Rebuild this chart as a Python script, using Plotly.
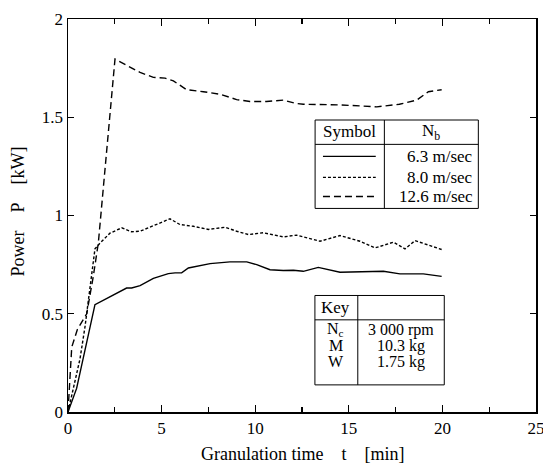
import plotly.graph_objects as go

# Data
t_63 = [0, 0.46, 1.44, 2.24, 3.13, 3.4, 3.85, 4.56, 5.36, 5.72, 6.07, 6.43, 7.59, 8.65, 9.55,
        10.08, 10.79, 11.5, 12.04, 12.57, 13.37, 14.53, 15.6, 16.85, 17.73, 18.98, 19.96]
p_63 = [0, 0.12, 0.546, 0.588, 0.631, 0.631, 0.643, 0.68, 0.704, 0.708, 0.708, 0.733, 0.755, 0.764, 0.764,
        0.75, 0.724, 0.72, 0.721, 0.716, 0.736, 0.711, 0.712, 0.716, 0.703, 0.703, 0.69]

t_80 = [0, 0.3, 0.64, 0.91, 1.2, 1.44, 1.71, 2.24, 2.87, 3.4, 3.85, 4.74, 5.45, 5.98, 6.7, 7.5,
        8.39, 9.01, 9.63, 10.43, 11.5, 12.2, 13.46, 14.53, 15.6, 16.4, 17.38, 18.0, 18.54, 19.96]
p_80 = [0, 0.12, 0.27, 0.435, 0.65, 0.83, 0.86, 0.91, 0.937, 0.917, 0.92, 0.954, 0.983, 0.954, 0.945, 0.929,
        0.94, 0.92, 0.903, 0.912, 0.891, 0.9, 0.869, 0.898, 0.869, 0.835, 0.864, 0.83, 0.872, 0.827]

t_126 = [0, 0.2, 0.5, 1.0, 1.35, 1.62, 2.51, 3.04, 3.85, 4.56, 5.18, 5.63, 6.34, 7.23, 8.12, 9.01,
         9.72, 10.6, 11.5, 12.2, 12.57, 14.53, 16.49, 17.7, 18.63, 19.25, 19.96]
p_126 = [0, 0.33, 0.42, 0.5, 0.69, 0.86, 1.796, 1.77, 1.728, 1.703, 1.699, 1.685, 1.64, 1.63, 1.617, 1.59,
         1.58, 1.58, 1.587, 1.57, 1.566, 1.563, 1.553, 1.566, 1.587, 1.63, 1.64]

series_names = ["6.3 m/sec", "8.0 m/sec", "12.6 m/sec"]
key_labels = ["N<sub>c</sub>", "M", "W"]
key_values = ["3 000 rpm", "10.3 kg", "1.75 kg"]

x_ticks = [0, 5, 10, 15, 20, 25]
y_ticks = [0, 0.5, 1, 1.5, 2]
y_tick_text = ["0", "0.5", "1", "1.5", "2"]

FONT = "Liberation Serif, Times New Roman, DejaVu Serif, serif"
dashes = ["solid", "3px,2px", "7px,4px"]

fig = go.Figure()
for tx, py, nm, ds in zip([t_63, t_80, t_126], [p_63, p_80, p_126], series_names, dashes):
    fig.add_trace(go.Scatter(x=tx, y=py, mode="lines", name=nm, hoverinfo="skip",
                             line=dict(color="black", width=1.4, dash=ds)))

# Symbol table
shapes = []
lw = 1
shapes.append(dict(type="rect", x0=13.2, x1=21.92, y0=1.036, y1=1.486, line=dict(color="black", width=lw)))
shapes.append(dict(type="line", x0=16.9, x1=16.9, y0=1.036, y1=1.486, line=dict(color="black", width=lw)))
shapes.append(dict(type="line", x0=13.2, x1=21.92, y0=1.362, y1=1.362, line=dict(color="black", width=lw)))
sample_y = [1.301, 1.194, 1.097]
for yy, ds in zip(sample_y, dashes):
    shapes.append(dict(type="line", x0=13.62, x1=16.44, y0=yy, y1=yy,
                       line=dict(color="black", width=1.4, dash=ds)))
# Key table
shapes.append(dict(type="rect", x0=13.19, x1=20.1, y0=0.138, y1=0.593, line=dict(color="black", width=lw)))
shapes.append(dict(type="line", x0=15.48, x1=15.48, y0=0.138, y1=0.593, line=dict(color="black", width=lw)))
shapes.append(dict(type="line", x0=13.19, x1=20.1, y0=0.469, y1=0.469, line=dict(color="black", width=lw)))

ann = []
fnt = dict(family=FONT, size=17, color="black")
fnt_k = dict(family=FONT, size=16, color="black")
fnt_t = dict(family=FONT, size=18, color="black")
ann.append(dict(x=15.05, y=1.426, text="Symbol", showarrow=False, font=fnt))
ann.append(dict(x=19.4, y=1.426, text="N<sub>b</sub>", showarrow=False, font=fnt))
for yy, nm in zip(sample_y, series_names):
    ann.append(dict(x=21.75, y=yy, text=nm, showarrow=False, font=fnt, xanchor="right"))
ann.append(dict(x=14.3, y=0.533, text="Key", showarrow=False, font=fnt))
for yy, kl, kv in zip([0.418, 0.337, 0.255], key_labels, key_values):
    ann.append(dict(x=14.3, y=yy, text=kl, showarrow=False, font=fnt_k))
    ann.append(dict(x=17.8, y=yy, text=kv, showarrow=False, font=fnt_k))
# axis titles
ann.append(dict(xref="paper", yref="paper", x=-0.107, y=0.51, xanchor="center", yanchor="middle",
                text="Power\u2003P\u2003[kW]", textangle=-90, showarrow=False, font=fnt_t))
ann.append(dict(xref="paper", yref="paper", x=0.5, y=-0.107, yanchor="middle",
                text="Granulation time\u2003t\u2003[min]", showarrow=False, font=fnt_t))

fig.update_layout(
    width=543, height=468,
    margin=dict(l=68, r=7, t=19, b=56),
    paper_bgcolor="white", plot_bgcolor="white",
    showlegend=False, hovermode=False,
    font=dict(family=FONT, size=17, color="black"),
    shapes=shapes, annotations=ann,
    xaxis=dict(range=[0, 25], tickvals=x_ticks, ticks="inside", ticklen=7, tickwidth=1.2,
               tickfont=dict(family=FONT, size=17),
               minor=dict(dtick=2.5, tick0=0, ticks="inside", ticklen=5, tickcolor="black", tickwidth=1.2),
               showline=True, linecolor="black", linewidth=1.5, mirror="ticks", showgrid=False,
               zeroline=False, tickcolor="black", automargin=False, ticklabeloverflow="allow"),
    yaxis=dict(range=[0, 2], tickvals=y_ticks, ticktext=y_tick_text, ticks="inside", ticklen=6,
               tickfont=dict(family=FONT, size=17),
               tickwidth=1.2, showline=True, linecolor="black", linewidth=1.5, mirror="ticks",
               showgrid=False, zeroline=False, tickcolor="black", automargin=False),
)

fig.write_html("out.html", config={"displayModeBar": False, "staticPlot": True},
               post_script="document.body.style.margin='0px';document.body.style.overflow='hidden';")
